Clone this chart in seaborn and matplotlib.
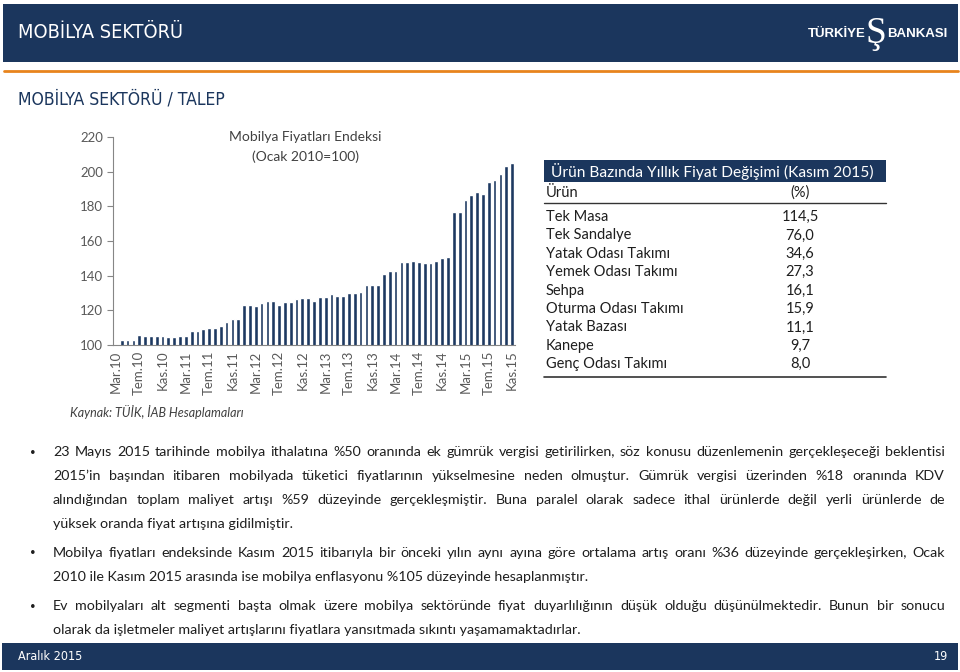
import matplotlib
matplotlib.use("Agg")
import matplotlib.pyplot as plt
from matplotlib import font_manager
from matplotlib.font_manager import FontProperties
from matplotlib.patches import Rectangle
from matplotlib.lines import Line2D
import pandas as pd
import seaborn as sns

# ---- data ----
month_names = ["Oca", "Şub", "Mar", "Nis", "May", "Haz", "Tem", "Ağu", "Eyl", "Eki", "Kas", "Ara"]
index_values = [
    100.2, 102.7, 102.7, 102.7, 105.9, 105.4, 105.4, 105.0, 105.0, 104.4,
    104.4, 105.0, 105.4, 108.0, 108.0, 109.0, 110.0, 110.0, 110.7, 113.2,
    114.8, 114.8, 122.8, 122.8, 122.4, 124.4, 125.4, 125.4, 122.8, 124.8,
    124.8, 126.4, 127.4, 127.4, 125.4, 127.9, 127.9, 129.5, 128.5, 128.5,
    130.0, 130.0, 130.6, 134.4, 134.4, 134.4, 141.2, 142.9, 142.9, 148.1,
    147.7, 148.7, 148.1, 147.1, 147.1, 148.7, 150.2, 150.8, 176.6, 176.6,
    183.6, 186.7, 188.2, 187.2, 193.8, 195.3, 198.5, 203.3, 204.8,
]
tick_labels = ["Mar.10", "Tem.10", "Kas.10", "Mar.11", "Tem.11", "Kas.11",
               "Mar.12", "Tem.12", "Kas.12", "Mar.13", "Tem.13", "Kas.13",
               "Mar.14", "Tem.14", "Kas.14", "Mar.15", "Tem.15", "Kas.15"]
yticks = [100, 120, 140, 160, 180, 200, 220]

products = ["Tek Masa", "Tek Sandalye", "Yatak Odası Takımı", "Yemek Odası Takımı",
            "Sehpa", "Oturma Odası Takımı", "Yatak Bazası", "Kanepe", "Genç Odası Takımı"]
changes = [114.5, 76.0, 34.6, 27.3, 16.1, 15.9, 11.1, 9.7, 8.0]

bullets = [
    ["23 Mayıs 2015 tarihinde mobilya ithalatına %50 oranında ek gümrük vergisi getirilirken, söz konusu düzenlemenin gerçekleşeceği beklentisi",
     "2015’in başından itibaren mobilyada tüketici fiyatlarının yükselmesine neden olmuştur. Gümrük vergisi üzerinden %18 oranında KDV",
     "alındığından toplam maliyet artışı %59 düzeyinde gerçekleşmiştir. Buna paralel olarak sadece ithal ürünlerde değil yerli ürünlerde de",
     "yüksek oranda fiyat artışına gidilmiştir."],
    ["Mobilya fiyatları endeksinde Kasım 2015 itibarıyla bir önceki yılın aynı ayına göre ortalama artış oranı %36 düzeyinde gerçekleşirken, Ocak",
     "2010 ile Kasım 2015 arasında ise mobilya enflasyonu %105 düzeyinde hesaplanmıştır."],
    ["Ev mobilyaları alt segmenti başta olmak üzere mobilya sektöründe fiyat duyarlılığının düşük olduğu düşünülmektedir. Bunun bir sonucu",
     "olarak da işletmeler maliyet artışlarını fiyatlara yansıtmada sıkıntı yaşamamaktadırlar."],
]
bullet_rows = [[456, 480, 504, 528], [557, 581], [610, 634]]

months = []
for k in range(len(index_values)):
    m = 2 + k
    months.append(f"{month_names[m % 12]}.{10 + m // 12}")

# ---- style ----
sns.set_theme(style="white")
names = {f.name for f in font_manager.fontManager.ttflist}
FONT = "Lato" if "Lato" in names else "DejaVu Sans"
plt.rcParams["font.family"] = [FONT, "DejaVu Sans"]

# a condensed face for the slide headings, if one is installed
narrow_file = None
for f in font_manager.fontManager.ttflist:
    if ("Narrow" in f.name or f.stretch in ("condensed", "semi-condensed")) \
            and f.style == "normal" and f.weight in (400, "normal", "regular"):
        narrow_file = f.fname
        break


def head_props(size_narrow, size_plain):
    if narrow_file:
        return FontProperties(fname=narrow_file, size=size_narrow)
    return FontProperties(family=FONT, size=size_plain)


navy = "#1b365d"
bar_col = "#1d3961"
orange = "#e8841d"
grey = "#595959"
text_col = "#1e1e1e"

W, H = 960, 672
fig = plt.figure(figsize=(9.6, 6.72), dpi=100)
fig.patch.set_facecolor("white")


def fx(x):
    return x / W


def fy(y):
    return 1 - y / H


def rect(x0, y0, x1, y1, color):
    fig.add_artist(Rectangle((fx(x0), fy(y1)), (x1 - x0) / W, (y1 - y0) / H,
                             transform=fig.transFigure, color=color, lw=0))


def hline(x0, x1, y, color, lw):
    fig.add_artist(Line2D([fx(x0), fx(x1)], [fy(y), fy(y)], transform=fig.transFigure,
                          color=color, lw=lw))


# header / footer
rect(3, 4, 958, 62, navy)
hline(4, 958, 71, orange, 2.0)
rect(2, 643, 958, 670, navy)
fig.text(fx(18), fy(33), "MOBİLYA SEKTÖRÜ", color="white", va="center", ha="left",
         fontproperties=head_props(14.3, 12.8))
fig.text(fx(18), fy(99), "MOBİLYA SEKTÖRÜ / TALEP", color=navy, va="center", ha="left",
         fontproperties=head_props(12.6, 11.3))
fig.text(fx(866), fy(34), "TÜRKİYE", color="white", fontsize=9.5, fontweight="bold",
         va="center", ha="right", family="Liberation Sans")
fig.text(fx(876), fy(34), "Ş", color="white", fontsize=27, va="center", ha="center",
         family="Liberation Serif")
fig.text(fx(887), fy(34), "BANKASI", color="white", fontsize=9.5, fontweight="bold",
         va="center", ha="left", family="Liberation Sans")
fig.text(fx(18), fy(656), "Aralık 2015", color="white", va="center", ha="left",
         fontproperties=head_props(9, 8.5))
fig.text(fx(948), fy(656), "19", color="white", va="center", ha="right",
         fontproperties=head_props(9, 8.5))

# ---- chart ----
ax = fig.add_axes([fx(113), fy(345), (515 - 113) / W, (345 - 137) / H])
df = pd.DataFrame({"ay": months, "endeks": index_values})
sns.barplot(data=df, x="ay", y="endeks", color=bar_col, saturation=1, width=0.64, ax=ax)
ax.set_facecolor("none")
ax.set_ylim(100, 220)
ax.set_xlim(-0.5, len(months) - 0.5)
ax.set_xlabel("")
ax.set_ylabel("")
ax.set_yticks(yticks)
ax.set_yticklabels([str(v) for v in yticks], fontsize=9.5, color=grey)
ax.set_xticks([months.index(t) for t in tick_labels])
ax.set_xticklabels(tick_labels, rotation=90, fontsize=9.5, color=grey)
ax.set_xticks([-0.5 + 4 * k for k in range(18)], minor=True)
ax.tick_params(axis="x", which="major", length=0, pad=4)
ax.tick_params(axis="x", which="minor", length=4, width=0.8, color="#868686", direction="out")
ax.tick_params(axis="y", length=4, width=0.8, color="#868686", direction="out", pad=3, left=True)
for s in ["top", "right"]:
    ax.spines[s].set_visible(False)
for s in ["left", "bottom"]:
    ax.spines[s].set_color("#868686")
    ax.spines[s].set_linewidth(0.8)
fig.text(fx(305), fy(137), "Mobilya Fiyatları Endeksi", color="#404040", fontsize=10,
         ha="center", va="center")
fig.text(fx(305), fy(157), "(Ocak 2010=100)", color="#404040", fontsize=10,
         ha="center", va="center")
fig.text(fx(70), fy(412), "Kaynak: TÜİK, İAB Hesaplamaları", color="#404040", fontsize=9,
         style="italic", ha="left", va="center")

# ---- table ----
rect(544, 160, 886, 182, navy)
fig.text(fx(712), fy(171.5), "Ürün Bazında Yıllık Fiyat Değişimi (Kasım 2015)", color="white",
         fontsize=11.2, ha="center", va="center")
fig.text(fx(546), fy(193), "Ürün", color=text_col, fontsize=10.5, ha="left", va="center")
fig.text(fx(800), fy(193), "(%)", color=text_col, fontsize=10.5, ha="center", va="center")
hline(544, 886, 203, "#333333", 1.0)
for i, (p, c) in enumerate(zip(products, changes)):
    y = 217 + 18.4 * i
    fig.text(fx(546), fy(y), p, color=text_col, fontsize=10.5, ha="left", va="center")
    fig.text(fx(800), fy(y), f"{c:.1f}".replace(".", ","), color=text_col, fontsize=10.5,
             ha="center", va="center")
hline(544, 886, 377, "#333333", 1.2)

# ---- bullet text (justified) ----
renderer = fig.canvas.get_renderer()
probe = fig.text(0, 0, bullets[1][1], fontsize=10)
body_fs = 10 * (587 - 53) / probe.get_window_extent(renderer).width
probe.remove()

X0, X1 = 53, 945
for lines, rows in zip(bullets, bullet_rows):
    fig.text(fx(33), fy(rows[0] - 4), "•", color=text_col, fontsize=7, ha="center", va="center")
    for n, (line, y) in enumerate(zip(lines, rows)):
        if n == len(lines) - 1:
            fig.text(fx(X0), fy(y), line, color=text_col, fontsize=body_fs, va="baseline")
            continue
        words = line.split(" ")
        texts = [fig.text(0, 0, w, color=text_col, fontsize=body_fs, va="baseline") for w in words]
        widths = [t.get_window_extent(renderer).width for t in texts]
        gap = (X1 - X0 - sum(widths)) / (len(words) - 1)
        x = X0
        for t, w in zip(texts, widths):
            t.set_position((fx(x), fy(y)))
            x += w + gap

fig.savefig("out.png", dpi=100)
